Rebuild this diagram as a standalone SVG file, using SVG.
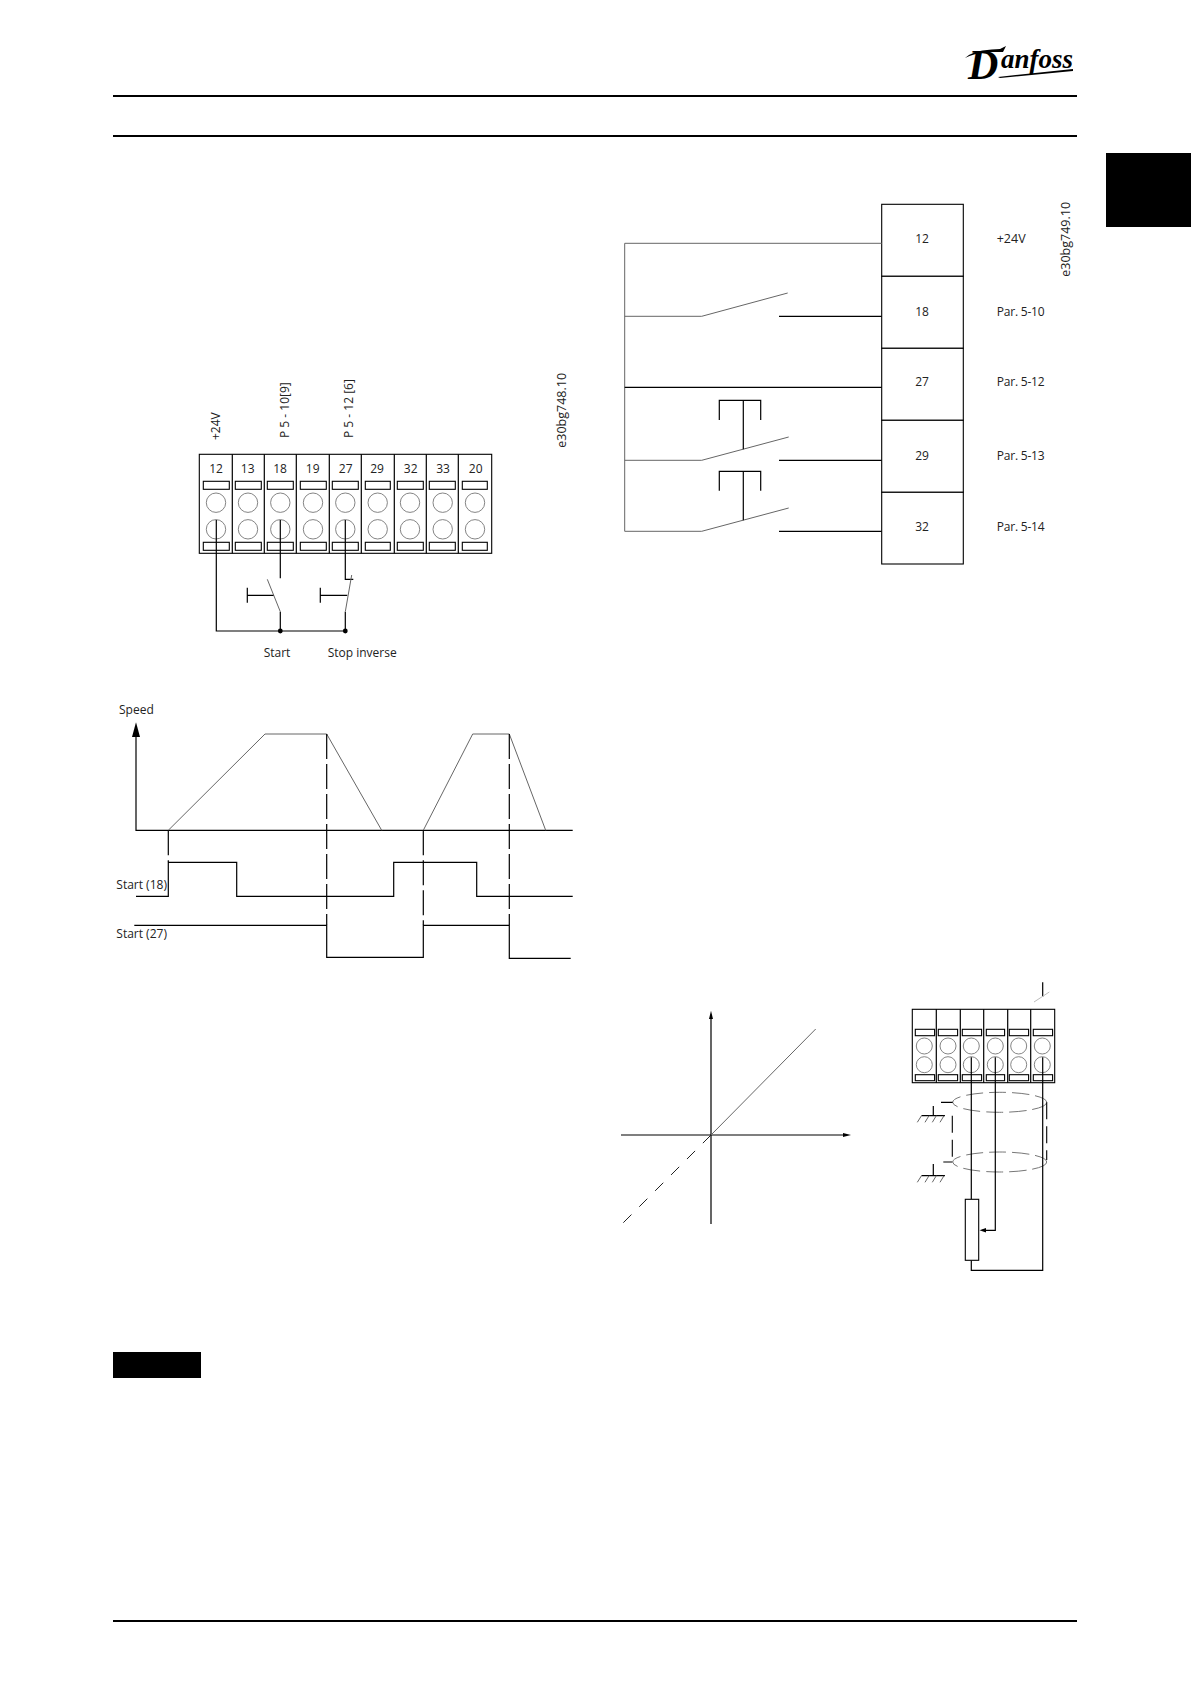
<svg xmlns="http://www.w3.org/2000/svg" width="1191" height="1684" viewBox="0 0 1191 1684">
<style>
text{font-family:"Open Sans","Noto Sans","Liberation Sans",sans-serif;font-size:12px;fill:#222}
.m{text-anchor:middle}
.p{letter-spacing:-.2px}
.e{font-size:12.5px}
.lg{font-family:"Liberation Serif",serif;font-style:italic;font-weight:bold;fill:#000}
.l{fill:none;stroke:#000;stroke-width:1.2}
.g{fill:none;stroke:#666;stroke-width:1}
.c{fill:#fff;stroke:#777;stroke-width:.9}
.r{fill:#fff;stroke:#000;stroke-width:1.1}
.d{fill:none;stroke:#000;stroke-width:1.2;stroke-dasharray:25 5}
.gd{fill:none;stroke:#777;stroke-width:1;stroke-dasharray:17 6}
.page{stroke:#000;stroke-width:2;fill:none}
</style>
<rect width="1191" height="1684" fill="#fff"/>
<g id="page">
<path class="page" d="M113 96H1077M113 136H1077M113 1621H1077"/>
<rect x="1106" y="153" width="85" height="74" fill="#000"/>
<rect x="113" y="1352" width="88" height="26" fill="#000"/>
</g>
<g id="logo">
<text class="lg" x="968" y="79" font-size="44" style="font-size:42px">D</text>
<text class="lg" x="1001" y="68" style="font-size:27px">anfoss</text>
<path d="M965 58C975 49 990 50 1000 49L1006 46L1003 52C990 52 977 52 965 58Z" fill="#000"/>
<path d="M998 77L1073 69V71L1000 78Z" fill="#000"/>
</g>
<g id="terminal-a">
<rect class="r" x="199.3" y="454.3" width="292.4" height="99"/>
<path class="l" d="M232.3 454.3V553.3M264.3 454.3V553.3M296.3 454.3V553.3M329.3 454.3V553.3M361.3 454.3V553.3M394.3 454.3V553.3M426.3 454.3V553.3M458.3 454.3V553.3"/>
<g id="a12"><text class="m" x="216" y="473">12</text><rect class="r" x="203.3" y="481.3" width="26" height="8"/><circle class="c" cx="216" cy="502.7" r="9.7"/><circle class="c" cx="216" cy="529.3" r="9.7"/><rect class="r" x="203.3" y="542.3" width="26" height="8"/></g>
<g id="a13"><text class="m" x="247.7" y="473">13</text><rect class="r" x="235.3" y="481.3" width="26" height="8"/><circle class="c" cx="248" cy="502.7" r="9.7"/><circle class="c" cx="248" cy="529.3" r="9.7"/><rect class="r" x="235.3" y="542.3" width="26" height="8"/></g>
<g id="a18"><text class="m" x="280" y="473">18</text><rect class="r" x="267.3" y="481.3" width="26" height="8"/><circle class="c" cx="280.3" cy="502.7" r="9.7"/><circle class="c" cx="280.3" cy="529.3" r="9.7"/><rect class="r" x="267.3" y="542.3" width="26" height="8"/></g>
<g id="a19"><text class="m" x="312.7" y="473">19</text><rect class="r" x="300.3" y="481.3" width="26" height="8"/><circle class="c" cx="313" cy="502.7" r="9.7"/><circle class="c" cx="313" cy="529.3" r="9.7"/><rect class="r" x="300.3" y="542.3" width="26" height="8"/></g>
<g id="a27"><text class="m" x="345.7" y="473">27</text><rect class="r" x="332.3" y="481.3" width="26" height="8"/><circle class="c" cx="345.3" cy="502.7" r="9.7"/><circle class="c" cx="345.3" cy="529.3" r="9.7"/><rect class="r" x="332.3" y="542.3" width="26" height="8"/></g>
<g id="a29"><text class="m" x="377" y="473">29</text><rect class="r" x="365.3" y="481.3" width="25" height="8"/><circle class="c" cx="377.7" cy="502.7" r="9.7"/><circle class="c" cx="377.7" cy="529.3" r="9.7"/><rect class="r" x="365.3" y="542.3" width="25" height="8"/></g>
<g id="a32"><text class="m" x="410.7" y="473">32</text><rect class="r" x="397.3" y="481.3" width="26" height="8"/><circle class="c" cx="410" cy="502.7" r="9.7"/><circle class="c" cx="410" cy="529.3" r="9.7"/><rect class="r" x="397.3" y="542.3" width="26" height="8"/></g>
<g id="a33"><text class="m" x="443" y="473">33</text><rect class="r" x="429.3" y="481.3" width="26" height="8"/><circle class="c" cx="442.7" cy="502.7" r="9.7"/><circle class="c" cx="442.7" cy="529.3" r="9.7"/><rect class="r" x="429.3" y="542.3" width="26" height="8"/></g>
<g id="a20"><text class="m" x="475.7" y="473">20</text><rect class="r" x="462.3" y="481.3" width="25" height="8"/><circle class="c" cx="475" cy="502.7" r="9.7"/><circle class="c" cx="475" cy="529.3" r="9.7"/><rect class="r" x="462.3" y="542.3" width="25" height="8"/></g>
</g>
<g id="labels-a">
<text transform="translate(220 440) rotate(-90)">+24V</text>
<text transform="translate(289.3 438) rotate(-90)">P 5 - 10[9]</text>
<text transform="translate(353.3 438) rotate(-90)">P 5 - 12 [6]</text>
<text class="e" transform="translate(566 447.7) rotate(-90)">e30bg748.10</text>
<text x="263.7" y="656.7">Start</text>
<text x="327.7" y="656.7">Stop inverse</text>
</g>
<g id="connectors-a">
<path class="l" d="M216.3 520V631H345.3M280.3 520V578.3M280.3 611.7V631M345.3 520V579.3H353.3M345.3 611.7V631M247.3 587.7V602.7M247.3 595.3H274M320.3 587.7V602.7M320.3 595.3H347.3"/>
<path class="g" d="M267.3 579.3L280.3 611.7M351.7 575L345.3 611.7"/>
<circle cx="280.3" cy="631" r="2.4"/><circle cx="345.3" cy="631" r="2.4"/>
</g>
<g id="chart">
<text x="119" y="714">Speed</text>
<text x="116.3" y="889">Start (18)</text>
<text x="116.3" y="938">Start (27)</text>
<path class="l" d="M136 736V830.3H572.7"/>
<path d="M136 722.3L132 737H140Z"/>
<path class="g" d="M168.3 830.3L265 734H326.7L381.7 830.3M423.3 830.3L472.7 734H509.3L545.7 830.3"/>
<path class="d" d="M168.3 830.3V862M326.7 734V925M423.3 830.3V925M509.3 734V925"/>
<path class="l" d="M136 896.3H168.3V862.3H236.7V896.3H393.7V862.3H476.7V896.3H572.7M134.3 925.3H326.7V957.3H423.3V925.3H509.3V958.3H570.7"/>
</g>
<g id="terminal-b">
<g id="b12"><rect class="r" x="881.7" y="204.3" width="81.6" height="72"/><text class="m" x="922" y="242.7">12</text><text x="996.7" y="242.7" style="font-size:12.5px">+24V</text></g>
<g id="b18"><rect class="r" x="881.7" y="276.3" width="81.6" height="72"/><text class="m" x="922" y="316">18</text><text class="p" x="996.7" y="316">Par. 5-10</text></g>
<g id="b27"><rect class="r" x="881.7" y="348.3" width="81.6" height="72"/><text class="m" x="922" y="385.7">27</text><text class="p" x="996.7" y="385.7">Par. 5-12</text></g>
<g id="b29"><rect class="r" x="881.7" y="420.3" width="81.6" height="72"/><text class="m" x="922" y="459.7">29</text><text class="p" x="996.7" y="459.7">Par. 5-13</text></g>
<g id="b32"><rect class="r" x="881.7" y="492.3" width="81.6" height="71.7"/><text class="m" x="922" y="530.7">32</text><text class="p" x="996.7" y="530.7">Par. 5-14</text></g>
<text class="e" transform="translate(1069.5 276.7) rotate(-90)">e30bg749.10</text>
</g>
<g id="connectors-b">
<path class="g" d="M881.7 243.3H624.7V531.3H701.7L788.7 508M624.7 316.3H701.7L787.7 293M624.7 460.3H701.7L788.7 437"/>
<path class="l" d="M779 316.3H881.7M624.7 387.3H881.7M779 460.3H881.7M779 531.3H881.7M719.3 420V400.3H760.7V420M743.3 400.3V449.3M719.3 490.7V471.3H760.7V490.7M743.3 471.3V520.3"/>
</g>
<g id="graph">
<path class="l" d="M621 1135H844M711 1224V1018"/>
<path d="M851 1135L843 1133V1137ZM711 1010.7L709 1019H713Z"/>
<path class="g" d="M711 1135L815.7 1029"/>
<path fill="none" stroke="#222" stroke-width="1" stroke-dasharray="11.5 11" d="M711 1135L620 1226"/>
</g>
<g id="terminal-c">
<rect class="r" x="912.3" y="1009.3" width="142.4" height="73.4"/>
<path class="l" d="M936.3 1009.3V1082.7M960.3 1009.3V1082.7M983.7 1009.3V1082.7M1007.7 1009.3V1082.7M1030.7 1009.3V1082.7"/>
<g id="c1"><rect class="r" x="915.3" y="1029.3" width="19.3" height="6.4"/><circle class="c" cx="924.3" cy="1046" r="8"/><circle class="c" cx="924.3" cy="1064.7" r="8"/><rect class="r" x="915.3" y="1074.7" width="19.3" height="6"/></g>
<g id="c2"><rect class="r" x="938.3" y="1029.3" width="19.3" height="6.4"/><circle class="c" cx="948" cy="1046" r="8"/><circle class="c" cx="948" cy="1064.7" r="8"/><rect class="r" x="938.3" y="1074.7" width="19.3" height="6"/></g>
<g id="c3"><rect class="r" x="962.3" y="1029.3" width="19.3" height="6.4"/><circle class="c" cx="971.3" cy="1046" r="8"/><circle class="c" cx="971.3" cy="1064.7" r="8"/><rect class="r" x="962.3" y="1074.7" width="19.3" height="6"/></g>
<g id="c4"><rect class="r" x="986.3" y="1029.3" width="18.3" height="6.4"/><circle class="c" cx="995.3" cy="1046" r="8"/><circle class="c" cx="995.3" cy="1064.7" r="8"/><rect class="r" x="986.3" y="1074.7" width="18.3" height="6"/></g>
<g id="c5"><rect class="r" x="1009.3" y="1029.3" width="19.3" height="6.4"/><circle class="c" cx="1018.7" cy="1046" r="8"/><circle class="c" cx="1018.7" cy="1064.7" r="8"/><rect class="r" x="1009.3" y="1074.7" width="19.3" height="6"/></g>
<g id="c6"><rect class="r" x="1033.3" y="1029.3" width="19.3" height="6.4"/><circle class="c" cx="1042.3" cy="1046" r="8"/><circle class="c" cx="1042.3" cy="1064.7" r="8"/><rect class="r" x="1033.3" y="1074.7" width="19.3" height="6"/></g>
</g>
<g id="cable">
<ellipse class="gd" cx="999.7" cy="1102.3" rx="47" ry="10"/>
<ellipse class="gd" cx="999.7" cy="1162" rx="47" ry="10"/>
<path class="l" d="M1042.7 982.3V996.7M971.3 1057.3V1199.3M971.3 1260.3V1270.3H1042.7V1057.3M995.3 1057.3V1230.3H982"/>
<path d="M979.5 1230.3L986 1228V1232.6Z"/>
<rect class="r" x="965.3" y="1199.3" width="13.4" height="61"/>
<path fill="none" stroke="#bbb" stroke-width="1" d="M1034 1002L1049.3 992"/>
<path class="l" d="M941 1102.3H952.7M943.3 1162H952.3"/>
<path fill="none" stroke="#000" stroke-width="1.1" stroke-dasharray="17 7" d="M952.3 1115.7V1162M1046.7 1102.3V1160"/>
<path class="l" d="M933.3 1106V1115.5M921.5 1115.7H945M933.3 1164V1175.7M921.5 1175.7H945"/>
<path class="g" d="M917.3 1122.3L921.5 1115.7M925 1122.3L929 1115.7M932.3 1122.3L936.3 1115.7M940 1122.3L944 1115.7M917.3 1182.3L921.5 1175.7M925 1182.3L929 1175.7M932.3 1182.3L936.3 1175.7M940 1182.3L944 1175.7"/>
</g>
</svg>
